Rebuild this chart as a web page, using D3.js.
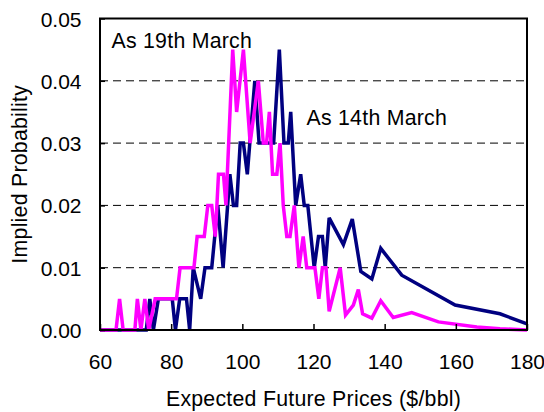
<!DOCTYPE html>
<html>
<head>
<meta charset="utf-8">
<script src="https://cdn.jsdelivr.net/npm/d3@7"></script>
<style>
  html, body { margin: 0; padding: 0; background: #fff; }
  svg { display: block; font-family: "Liberation Sans", Arial, sans-serif; }
</style>
</head>
<body>
<svg id="chart" width="544" height="412"></svg>
<script>
// Expected future price ($/bbl) and implied probability, as of 14th March (navy)
const march14X = [60, 73, 74, 75, 76.4, 80.3, 81.2, 82.4, 84.3, 85.2, 86.2, 88.3, 89.5, 91.4, 93.1, 94.6, 96.5, 97.5, 98.4, 99.4, 100.3, 101.4, 103.5, 104.7, 108.8, 110.4, 111.7, 112.9, 113.6, 115, 116.4, 117.4, 118.4, 120.2, 121.4, 122.5, 123.3, 124.4, 128.4, 130.9, 133.3, 136.4, 138.9, 144.8, 159.8, 172.4, 180];
const march14Y = [0, 0, 0.005, 0, 0.005, 0.005, 0, 0.005, 0.005, 0, 0.01, 0.005, 0.01, 0.01, 0.02, 0.01, 0.025, 0.02, 0.02, 0.03, 0.03, 0.025, 0.04, 0.03, 0.03, 0.045, 0.03, 0.03, 0.035, 0.02, 0.025, 0.02, 0.02, 0.01, 0.015, 0.015, 0.01, 0.018, 0.0137, 0.0178, 0.0094, 0.0082, 0.0131, 0.0088, 0.004, 0.0026, 0.001];

// As of 19th March (magenta)
const march19X = [60, 64.5, 65.5, 66.5, 69.8, 70.5, 71.5, 72.6, 73.7, 75.5, 81.5, 82.5, 86.4, 87.3, 89.3, 90.3, 91.4, 92.4, 93.3, 94.7, 95.4, 97.3, 98.4, 100.3, 102.2, 104.5, 105.9, 106.8, 107.6, 108.5, 109.7, 110.6, 111.5, 112.5, 113.4, 114.6, 115.9, 117.1, 118.1, 120.4, 121.5, 122.5, 123.5, 124.4, 127.5, 129, 131.2, 132.6, 133.8, 136.4, 138.9, 142.4, 147.6, 155.1, 165.9, 172.4, 180];
const march19Y = [0, 0, 0.005, 0, 0, 0.005, 0, 0.005, 0, 0.005, 0.005, 0.01, 0.01, 0.015, 0.015, 0.02, 0.02, 0.015, 0.025, 0.025, 0.02, 0.045, 0.035, 0.045, 0.03, 0.04, 0.03, 0.03, 0.035, 0.025, 0.025, 0.03, 0.02, 0.015, 0.015, 0.02, 0.01, 0.015, 0.01, 0.01, 0.005, 0.01, 0.01, 0.003, 0.01, 0.0024, 0.004, 0.0065, 0.0026, 0.0019, 0.0047, 0.002, 0.0028, 0.0013, 0.0005, 0.0002, 0];

const xTicks = [60, 80, 100, 120, 140, 160, 180];
const yTicks = [0, 0.01, 0.02, 0.03, 0.04, 0.05];
const gridTicks = [0.01, 0.02, 0.03, 0.04];

const seriesLabels = ["As 14th March", "As 19th March"];
const xTitle = "Expected Future Prices ($/bbl)";
const yTitle = "Implied Probability";

(function () {
const svg = d3.select("#chart");
const pl = 100, pr = 527, pt = 18.5, pb = 330;
const x = d3.scaleLinear().domain([60, 180]).range([pl, pr]);
const y = d3.scaleLinear().domain([0, 0.05]).range([pb, pt]);
const fontSize = 21.3;
const tickFont = 21;
const ls = 0.25;

// gridlines
svg.append("g").selectAll("line").data(gridTicks).join("line")
  .attr("x1", pl).attr("x2", pr)
  .attr("y1", d => y(d)).attr("y2", d => y(d))
  .attr("stroke", "#000").attr("stroke-width", 1)
  .attr("stroke-dasharray", "8,5");

// lines
const line = d3.line().x(d => x(d[0])).y(d => y(d[1]));
const s14 = march14X.map((v, i) => [v, march14Y[i]]);
const s19 = march19X.map((v, i) => [v, march19Y[i]]);
svg.append("path").datum(s14).attr("d", line)
  .attr("fill", "none").attr("stroke", "#000080").attr("stroke-width", 3.5)
  .attr("stroke-linejoin", "miter").attr("stroke-miterlimit", 3);
svg.append("path").datum(s19).attr("d", line)
  .attr("fill", "none").attr("stroke", "#FF00FF").attr("stroke-width", 3.5)
  .attr("stroke-linejoin", "miter").attr("stroke-miterlimit", 3);

// axes
const xAxis = d3.axisBottom(x).tickValues(xTicks).tickSizeInner(-6).tickSizeOuter(0).tickPadding(0).tickFormat(d3.format("d"));
const gx = svg.append("g").attr("transform", `translate(0,${pb})`).call(xAxis);
gx.select(".domain").remove();
gx.selectAll(".tick line").attr("stroke", "#000").attr("stroke-width", 1.5);
gx.selectAll(".tick text").attr("font-size", tickFont).attr("fill", "#000")
  .attr("font-family", "Liberation Sans, Arial, sans-serif")
  .attr("dy", null).attr("y", 39.3);

const yAxis = d3.axisLeft(y).tickValues(yTicks).tickSizeInner(-5).tickSizeOuter(0).tickPadding(0).tickFormat(d3.format(".2f"));
const gy = svg.append("g").attr("transform", `translate(${pl},0)`).call(yAxis);
gy.select(".domain").remove();
gy.selectAll(".tick line").attr("stroke", "#000").attr("stroke-width", 1.5);
gy.selectAll(".tick text").attr("font-size", tickFont).attr("fill", "#000")
  .attr("font-family", "Liberation Sans, Arial, sans-serif")
  .attr("dy", null).attr("x", -18.5).attr("y", 7.5);

// frame
svg.append("rect").attr("x", pl).attr("y", pt).attr("width", pr - pl).attr("height", pb - pt)
  .attr("fill", "none").attr("stroke", "#000").attr("stroke-width", 2);

// labels
svg.append("text").attr("x", 111.5).attr("y", 48.3).attr("font-size", fontSize).attr("letter-spacing", ls).attr("fill", "#000").text(seriesLabels[1]);
svg.append("text").attr("x", 306.5).attr("y", 125).attr("font-size", fontSize).attr("letter-spacing", ls).attr("fill", "#000").text(seriesLabels[0]);

svg.append("text").attr("x", (pl + pr) / 2).attr("y", 406).attr("text-anchor", "middle")
  .attr("font-size", fontSize).attr("letter-spacing", ls).attr("fill", "#000").text(xTitle);
svg.append("text").attr("transform", `translate(27.3,${(pt + pb) / 2}) rotate(-90)`)
  .attr("text-anchor", "middle").attr("font-size", fontSize).attr("letter-spacing", ls).attr("fill", "#000").text(yTitle);
})();
</script>
</body>
</html>
